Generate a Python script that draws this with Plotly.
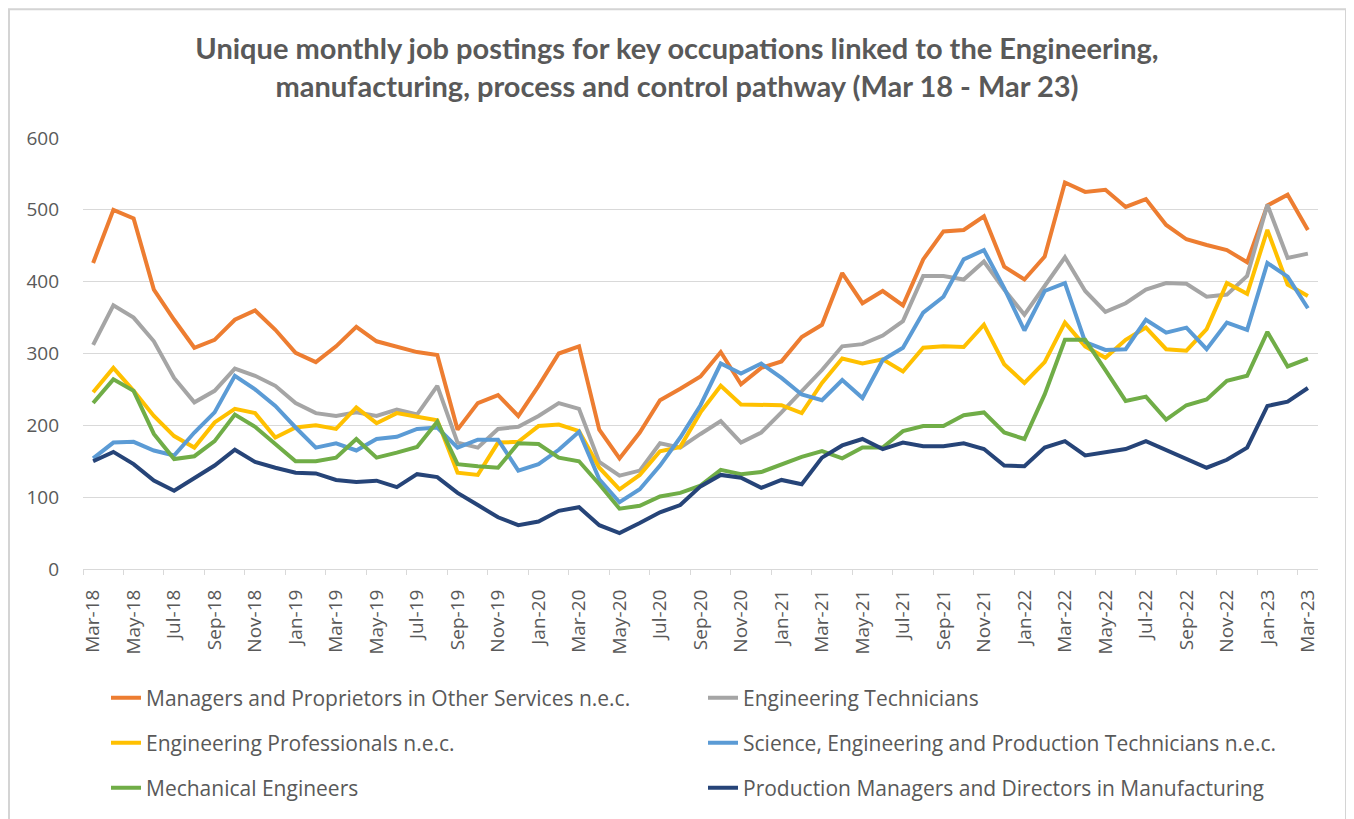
import plotly.graph_objects as go

months = ["Mar-18","Apr-18","May-18","Jun-18","Jul-18","Aug-18","Sep-18","Oct-18","Nov-18","Dec-18",
          "Jan-19","Feb-19","Mar-19","Apr-19","May-19","Jun-19","Jul-19","Aug-19","Sep-19","Oct-19",
          "Nov-19","Dec-19","Jan-20","Feb-20","Mar-20","Apr-20","May-20","Jun-20","Jul-20","Aug-20",
          "Sep-20","Oct-20","Nov-20","Dec-20","Jan-21","Feb-21","Mar-21","Apr-21","May-21","Jun-21",
          "Jul-21","Aug-21","Sep-21","Oct-21","Nov-21","Dec-21","Jan-22","Feb-22","Mar-22","Apr-22",
          "May-22","Jun-22","Jul-22","Aug-22","Sep-22","Oct-22","Nov-22","Dec-22","Jan-23","Feb-23","Mar-23"]

managers = [426,500,488,389,347,308,319,347,360,333,301,288,310,337,317,310,302,298,194,231,
            242,213,255,300,310,194,154,190,235,251,268,302,257,280,289,323,340,412,
            370,387,367,431,470,472,491,421,403,435,538,525,528,504,515,479,459,451,444,427,506,521,472]
eng_tech = [312,367,350,317,266,232,248,279,269,255,231,217,213,218,213,222,215,255,176,169,
            195,198,213,231,223,149,130,137,175,169,188,206,176,190,218,248,277,310,
            313,325,345,408,408,403,428,389,354,394,434,387,358,370,389,398,397,379,382,408,507,433,439]
eng_prof = [246,280,248,213,185,169,204,223,217,183,197,200,195,225,203,217,212,207,134,131,
            176,177,199,201,192,141,111,131,164,170,218,255,229,229,228,217,259,293,
            286,292,275,308,310,309,340,285,259,288,343,310,294,319,336,306,304,334,398,383,472,396,380]
sci_tech = [154,176,177,165,158,190,218,269,250,227,197,169,175,165,181,184,195,197,169,180,
            180,137,146,166,191,125,93,111,144,183,228,286,272,286,266,243,235,263,
            238,291,308,357,379,431,444,391,332,387,398,316,305,306,347,329,336,306,343,333,426,407,363]
mech_eng = [231,264,248,188,153,157,178,215,198,174,150,150,155,181,155,162,170,205,146,143,
            141,175,174,155,150,118,84,88,101,106,116,138,132,135,146,156,164,154,
            169,169,192,199,199,214,218,190,181,243,319,319,277,234,240,208,228,236,262,269,330,282,293]
prod_mgr = [150,163,146,123,109,127,144,166,149,141,134,133,124,121,123,114,132,128,106,89,
            72,61,66,81,86,61,50,64,79,89,115,131,127,113,124,118,155,172,
            181,167,176,171,171,175,167,144,143,169,178,158,162,167,178,166,153,141,152,169,227,233,252]

series_names = ["Managers and Proprietors in Other Services n.e.c.",
                "Engineering Technicians",
                "Engineering Professionals n.e.c.",
                "Science, Engineering and Production Technicians n.e.c.",
                "Mechanical Engineers",
                "Production Managers and Directors in Manufacturing"]
series_values = [managers, eng_tech, eng_prof, sci_tech, mech_eng, prod_mgr]
colors = ["#ED7D31", "#A5A5A5", "#FFC000", "#5B9BD5", "#70AD47", "#264478"]
legend_ids = ["legend", "legend", "legend2", "legend2", "legend3", "legend3"]

y_ticks = [0, 100, 200, 300, 400, 500, 600]

fig = go.Figure()
for name, vals, col, lg in zip(series_names, series_values, colors, legend_ids):
    fig.add_trace(go.Scatter(x=months, y=vals, name=name, mode="lines",
                             line=dict(color=col, width=4), legend=lg))

# figure is placed at (8, 8) in the page by the default body margin
OFF = 8
W, H = 1354 - 2 * OFF, 819 - OFF
ml, mt = 83 - OFF, 138 - OFF
mr = W - (1318 - OFF)
mb = H - (570 - OFF)
pw, ph = W - ml - mr, H - mt - mb

def px_x(p):  # page pixel -> paper
    return (p - OFF - ml) / pw

def px_y(p):
    return (H - mb - (p - OFF)) / ph

txt = "#595959"
axis_font = dict(family="Open Sans", size=19, color=txt)
legend_font = dict(family="Open Sans", size=21, color=txt)
leg_common = dict(orientation="h", xanchor="left", yanchor="middle",
                  font=legend_font, entrywidth=552, entrywidthmode="pixels",
                  bgcolor="rgba(0,0,0,0)", traceorder="normal", itemwidth=30)

fig.update_layout(
    width=W, height=H,
    margin=dict(l=ml, r=mr, t=mt, b=mb),
    paper_bgcolor="white", plot_bgcolor="white",
    title=dict(text="Unique monthly job postings for key occupations linked to the Engineering,<br>"
                    "manufacturing, process and control pathway (Mar 18 - Mar 23)",
               x=(677 - OFF) / W, xanchor="center", y=1 - 51 / H, yanchor="top", yref="container",
               font=dict(family="Lato", size=29, color=txt, weight="bold")),
    xaxis=dict(type="category", tickmode="linear", dtick=2, tickson="boundaries",
               ticks="outside", ticklen=5, tickcolor="#D9D9D9", tickangle=-90,
               showline=True, linecolor="#D9D9D9", linewidth=1, showgrid=False,
               tickfont=axis_font, range=[-0.5, 60.5], ticklabelstandoff=12),
    yaxis=dict(range=[0, 600], tickvals=y_ticks, showgrid=True, gridcolor="#D9D9D9",
               gridwidth=1, zeroline=False, showline=False, ticks="",
               tickfont=axis_font, ticklabelstandoff=23),
    legend=dict(x=px_x(106), y=px_y(698), **leg_common),
    legend2=dict(x=px_x(106), y=px_y(743), **leg_common),
    legend3=dict(x=px_x(106), y=px_y(788), **leg_common),
    shapes=[dict(type="rect", xref="paper", yref="paper",
                 x0=px_x(9), x1=px_x(1346), y0=px_y(830), y1=px_y(9),
                 line=dict(color="#D4D4D4", width=2), fillcolor="rgba(0,0,0,0)", layer="above")],
)

fig.write_html("out.html")
